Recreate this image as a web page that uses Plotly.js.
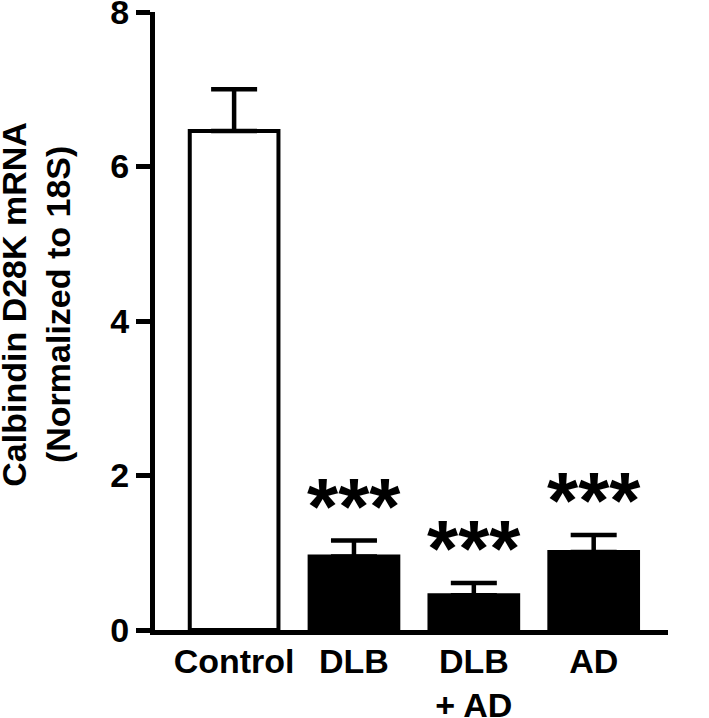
<!DOCTYPE html>
<html>
<head>
<meta charset="utf-8">
<script src="https://cdn.plot.ly/plotly-3.0.1.min.js"></script>
<style>html,body{margin:0;padding:0;background:#fff;}#chart{width:709px;height:718px;}</style>
</head>
<body>
<div id="chart"></div>
<script>
// Data
const categories = ["Control", "DLB", "DLB<br>+ AD", "AD"];
const means = [6.46, 0.95, 0.45, 1.01];
const sems = [0.54, 0.21, 0.16, 0.22];
const fills = ["#ffffff", "#000000", "#000000", "#000000"];
const sigLabels = ["", "***", "***", "***"];
const yTicks = [0, 2, 4, 6, 8];

const FONT = "Liberation Sans, Arial, Helvetica, sans-serif";

const trace = {
  type: "bar",
  x: categories,
  y: means,
  marker: { color: fills, line: { color: "#000", width: 4 } },
  error_y: {
    type: "data", array: sems, arrayminus: sems.map(() => 0), symmetric: false,
    visible: true, color: "#000", thickness: 4.5, width: 23
  },
  width: 0.74,
  hoverinfo: "none"
};

const annotations = categories.map((c, i) => sigLabels[i] ? {
  x: c, y: means[i] + sems[i] - 0.16, xref: "x", yref: "y",
  text: sigLabels[i], showarrow: false, yanchor: "bottom",
  font: { family: FONT, size: 80, weight: "bold", color: "#000" }
} : null).filter(a => a);

annotations.push({
  xref: "paper", yref: "paper", x: -0.232, y: 0.528,
  xanchor: "center", yanchor: "middle", textangle: -90, showarrow: false,
  text: "Calbindin D28K mRNA<br>(Normalized to 18S)",
  font: { family: FONT, size: 34, weight: "bold", color: "#000" }
});

const layout = {
  width: 709, height: 718,
  margin: { l: 155, r: 41, t: 12, b: 88, pad: 0 },
  paper_bgcolor: "#fff", plot_bgcolor: "#fff",
  showlegend: false,
  font: { family: FONT, color: "#000", weight: "bold" },
  xaxis: {
    type: "category", range: [-0.66, 3.62],
    showline: true, linecolor: "#000", linewidth: 5,
    ticks: "", showgrid: false, zeroline: false,
    ticklabelstandoff: -3,
    tickfont: { family: FONT, size: 34, weight: "bold", color: "#000" }
  },
  yaxis: {
    range: [0, 8], tickvals: yTicks, ticktext: yTicks.map(String),
    showline: true, linecolor: "#000", linewidth: 5,
    ticks: "outside", ticklen: 14, tickwidth: 5, tickcolor: "#000",
    showgrid: false, zeroline: false, ticklabeloverflow: "allow",
    tickfont: { family: FONT, size: 34, weight: "bold", color: "#000" }
  },
  annotations: annotations
};

Plotly.newPlot("chart", [trace], layout, { displayModeBar: false, staticPlot: true });
</script>
</body>
</html>
